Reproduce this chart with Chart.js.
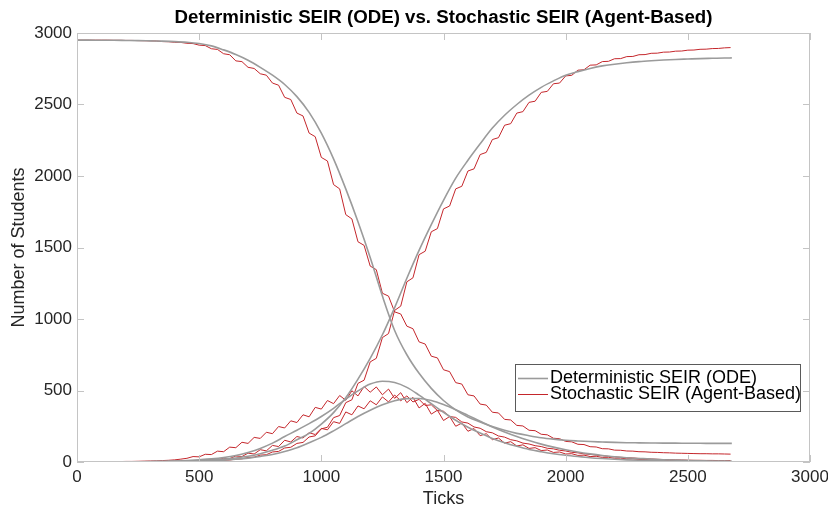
<!DOCTYPE html>
<html>
<head>
<meta charset="utf-8">
<script src="https://cdn.jsdelivr.net/npm/chart.js@4"></script>
<style>
  html, body { margin: 0; padding: 0; background: #fff; }
  #wrap { width: 828px; height: 510px; }
</style>
</head>
<body>
<div id="wrap"><canvas id="seirChart" width="828" height="510"></canvas></div>
<script>
// ticks for the smooth ODE curves
const gridTicks = [0, 50, 100, 150, 200, 250, 300, 350, 400, 450, 500, 550, 600, 650, 700, 750, 800, 850, 900, 950,
  1000, 1050, 1100, 1150, 1200, 1250, 1300, 1350, 1400, 1450, 1500, 1550, 1600, 1650, 1700, 1750, 1800, 1850, 1900, 1950,
  2000, 2050, 2100, 2150, 2200, 2250, 2300, 2350, 2400, 2450, 2500, 2550, 2600, 2650, 2680];

// deterministic SEIR (ODE)
const odeS = [2950, 2950, 2949, 2949, 2948, 2947, 2945, 2943, 2940, 2935, 2926, 2910, 2882, 2850, 2810, 2760, 2705, 2640, 2555, 2445,
  2300, 2120, 1910, 1680, 1430, 1160, 920, 750, 620, 515, 430, 365, 315, 280, 248, 222, 200, 184, 170, 160,
  152, 147, 143, 140, 137, 135, 134, 133, 132, 132, 131, 131, 130, 130, 130];
const odeE = [0, 0, 1, 1, 2, 2, 3, 5, 7, 11, 16, 22, 31, 45, 67, 95, 132, 178, 222, 268,
  318, 375, 440, 497, 545, 565, 556, 522, 468, 408, 348, 292, 243, 203, 165, 135, 110, 88, 72, 58,
  47, 38, 30, 24, 19, 15, 12, 10, 8, 6, 5, 4, 4, 3, 3];
const odeI = [0, 0, 0, 0, 1, 1, 2, 2, 3, 4, 6, 9, 13, 19, 27, 39, 53, 74, 100, 135,
  172, 218, 268, 318, 362, 400, 428, 443, 444, 430, 402, 366, 326, 285, 245, 210, 178, 150, 125, 104,
  86, 70, 57, 46, 37, 30, 25, 20, 16, 13, 11, 9, 7, 6, 5];
const odeR = [0, 0, 0, 0, 1, 1, 2, 3, 5, 7, 10, 14, 20, 28, 40, 58, 82, 112, 155, 200,
  265, 345, 450, 580, 725, 890, 1080, 1285, 1480, 1660, 1830, 1985, 2110, 2225, 2335, 2425, 2500, 2565, 2620, 2665,
  2705, 2730, 2752, 2770, 2782, 2792, 2800, 2806, 2811, 2815, 2818, 2821, 2823, 2825, 2826];

// finer ticks for the agent-based runs
const fineTicks = [0, 25, 50, 75, 100, 125, 150, 175, 200, 225, 250, 275, 300, 325, 350, 375,
  400, 425, 450, 475, 500, 525, 550, 575, 600, 625, 650, 675, 700, 725, 750, 775,
  800, 825, 850, 875, 900, 925, 950, 975, 1000, 1025, 1050, 1075, 1100, 1125, 1150, 1175,
  1200, 1225, 1250, 1275, 1300, 1325, 1350, 1375, 1400, 1425, 1450, 1475, 1500, 1525, 1550, 1575,
  1600, 1625, 1650, 1675, 1700, 1725, 1750, 1775, 1800, 1825, 1850, 1875, 1900, 1925, 1950, 1975,
  2000, 2025, 2050, 2075, 2100, 2125, 2150, 2175, 2200, 2225, 2250, 2275, 2300, 2325, 2350, 2375,
  2400, 2425, 2450, 2475, 2500, 2525, 2550, 2575, 2600, 2625, 2650, 2675];

// stochastic SEIR (agent-based)
const abmS = [2950, 2950, 2950, 2950, 2950, 2950, 2949, 2949, 2948, 2948, 2947, 2946, 2945, 2944, 2940, 2939,
  2935, 2934, 2928, 2926, 2915, 2912, 2890, 2885, 2855, 2848, 2805, 2800, 2760, 2752, 2715, 2705,
  2650, 2635, 2550, 2535, 2440, 2420, 2300, 2275, 2130, 2105, 1940, 1910, 1730, 1700, 1540, 1515,
  1370, 1345, 1180, 1160, 1050, 1035, 950, 932, 840, 825, 740, 728, 645, 632, 555, 545,
  470, 462, 405, 398, 348, 343, 298, 294, 256, 252, 222, 219, 194, 190, 166, 163,
  144, 141, 124, 122, 107, 105, 93, 92, 83, 82, 77, 76, 72, 71, 68, 67,
  65, 64, 62, 61, 60, 59, 58, 58, 57, 57, 56, 55];
const abmE = [0, 0, 1, 1, 2, 2, 3, 3, 4, 4, 5, 6, 7, 8, 10, 12,
  15, 20, 26, 38, 36, 54, 52, 76, 72, 104, 100, 138, 130, 172, 165, 208,
  198, 248, 238, 288, 276, 330, 316, 382, 370, 430, 408, 465, 432, 498, 462, 528,
  488, 525, 470, 510, 445, 485, 415, 452, 378, 410, 335, 362, 290, 318, 250, 272,
  215, 234, 184, 198, 156, 168, 132, 142, 112, 120, 95, 100, 80, 84, 67, 70,
  56, 58, 46, 48, 38, 40, 32, 33, 26, 27, 22, 22, 18, 18, 15, 15,
  12, 12, 10, 10, 8, 8, 7, 6, 5, 5, 4, 3];
const abmI = [0, 0, 0, 0, 1, 1, 1, 1, 2, 2, 2, 3, 3, 4, 4, 5,
  6, 6, 9, 8, 12, 11, 17, 16, 26, 24, 42, 38, 62, 56, 86, 78,
  116, 108, 152, 140, 178, 168, 205, 192, 235, 225, 282, 270, 350, 330, 392, 372,
  428, 400, 455, 420, 468, 428, 462, 420, 438, 395, 400, 360, 355, 318, 312, 280,
  272, 245, 236, 212, 204, 182, 174, 156, 148, 132, 126, 114, 108, 96, 92, 82,
  77, 68, 64, 57, 53, 48, 44, 40, 36, 33, 30, 28, 25, 23, 21, 19,
  17, 16, 15, 14, 13, 12, 12, 11, 11, 10, 10, 10];
const abmR = [0, 0, 0, 0, 0, 0, 0, 0, 1, 1, 1, 1, 2, 2, 2, 2,
  3, 3, 4, 4, 6, 6, 9, 10, 13, 14, 20, 22, 32, 34, 48, 51,
  70, 74, 98, 103, 130, 137, 175, 183, 232, 243, 310, 325, 415, 435, 550, 572,
  700, 725, 870, 898, 1060, 1090, 1260, 1288, 1450, 1474, 1610, 1632, 1770, 1790, 1910, 1928,
  2035, 2050, 2150, 2165, 2255, 2268, 2355, 2366, 2440, 2450, 2515, 2523, 2585, 2592, 2645, 2650,
  2700, 2704, 2740, 2743, 2775, 2777, 2800, 2802, 2820, 2821, 2835, 2836, 2848, 2849, 2858, 2859,
  2866, 2867, 2873, 2874, 2880, 2881, 2886, 2887, 2891, 2892, 2896, 2898];

const axisTicks = [0, 500, 1000, 1500, 2000, 2500, 3000];

const GRAY = '#9b9b9b';
const RED = '#c4262b';

function pts(xs, ys) {
  return xs.map((x, i) => ({ x: x, y: ys[i] }));
}

function odeSet(ys) {
  return {
    label: 'Deterministic SEIR (ODE)',
    data: pts(gridTicks, ys),
    borderColor: GRAY, borderWidth: 1.6,
    pointRadius: 0, cubicInterpolationMode: 'monotone', fill: false
  };
}
function abmSet(ys) {
  return {
    label: 'Stochastic SEIR (Agent-Based)',
    data: pts(fineTicks, ys),
    borderColor: RED, borderWidth: 1,
    pointRadius: 0, tension: 0, fill: false
  };
}

// frame, inward ticks, title and legend like the original figure
const figurePlugin = {
  id: 'figure',
  afterDraw(chart) {
    const ctx = chart.ctx;
    const a = chart.chartArea;
    const xs = chart.scales.x, ys = chart.scales.y;
    ctx.save();
    ctx.strokeStyle = '#c4c4c4';
    ctx.lineWidth = 1;
    ctx.strokeRect(a.left + 0.5, a.top + 0.5, a.right - a.left - 1, a.bottom - a.top - 1);
    ctx.beginPath();
    axisTicks.forEach(v => {
      const px = Math.round(xs.getPixelForValue(v)) + 0.5;
      ctx.moveTo(px, a.bottom); ctx.lineTo(px, a.bottom - 7);
      ctx.moveTo(px, a.top); ctx.lineTo(px, a.top + 7);
      const py = Math.round(ys.getPixelForValue(v)) + 0.5;
      ctx.moveTo(a.left, py); ctx.lineTo(a.left + 7, py);
      ctx.moveTo(a.right, py); ctx.lineTo(a.right - 7, py);
    });
    ctx.stroke();

    // title
    ctx.fillStyle = '#000';
    ctx.font = 'bold 18.7px "Liberation Sans", Arial, sans-serif';
    ctx.textAlign = 'center';
    ctx.textBaseline = 'middle';
    ctx.fillText('Deterministic SEIR (ODE) vs. Stochastic SEIR (Agent-Based)', (a.left + a.right) / 2, 18);

    // legend
    const entries = [chart.data.datasets[0], chart.data.datasets[4]];
    const bx = 515, by = 364, bw = 285, bh = 47;
    ctx.fillStyle = '#fff';
    ctx.fillRect(bx, by, bw, bh);
    ctx.strokeStyle = '#5a5a5a';
    ctx.strokeRect(bx + 0.5, by + 0.5, bw, bh);
    ctx.font = '18px "Liberation Sans", Arial, sans-serif';
    ctx.textAlign = 'left';
    entries.forEach((ds, i) => {
      const cy = by + 14 + i * 16;
      ctx.strokeStyle = ds.borderColor;
      ctx.lineWidth = ds.borderWidth;
      ctx.beginPath();
      ctx.moveTo(bx + 3, cy + 0.5); ctx.lineTo(bx + 33, cy + 0.5);
      ctx.stroke();
      ctx.fillStyle = '#000';
      ctx.fillText(ds.label, bx + 35, cy);
    });
    ctx.restore();
  }
};

Chart.defaults.font.family = '"Liberation Sans", Arial, sans-serif';
Chart.defaults.font.size = 17;
Chart.defaults.color = '#262626';

new Chart(document.getElementById('seirChart').getContext('2d'), {
  type: 'line',
  data: {
    datasets: [
      odeSet(odeS), odeSet(odeE), odeSet(odeI), odeSet(odeR),
      abmSet(abmS), abmSet(abmE), abmSet(abmI), abmSet(abmR)
    ]
  },
  options: {
    responsive: false,
    animation: false,
    layout: { padding: { top: 33, right: 18, left: 0, bottom: 0 } },
    plugins: { legend: { display: false }, title: { display: false }, tooltip: { enabled: false } },
    scales: {
      x: {
        type: 'linear', min: 0, max: 3000,
        grid: { display: false, drawTicks: false }, border: { display: false },
        ticks: { stepSize: 500, padding: 5, maxRotation: 0, callback: v => String(v) },
        title: { display: true, text: 'Ticks', font: { size: 18 }, padding: { top: 0, bottom: 0 } },
        afterFit(s) { s.height = 48; s.paddingLeft = 0; s.paddingRight = 0; }
      },
      y: {
        min: 0, max: 3000,
        grid: { display: false, drawTicks: false }, border: { display: false },
        ticks: { stepSize: 500, padding: 5, callback: v => String(v) },
        title: { display: true, text: 'Number of Students', font: { size: 18 }, padding: { top: 8, bottom: 0 } },
        afterFit(s) { s.width = 77; s.paddingTop = 0; s.paddingBottom = 0; }
      }
    }
  },
  plugins: [figurePlugin]
});
</script>
</body>
</html>
